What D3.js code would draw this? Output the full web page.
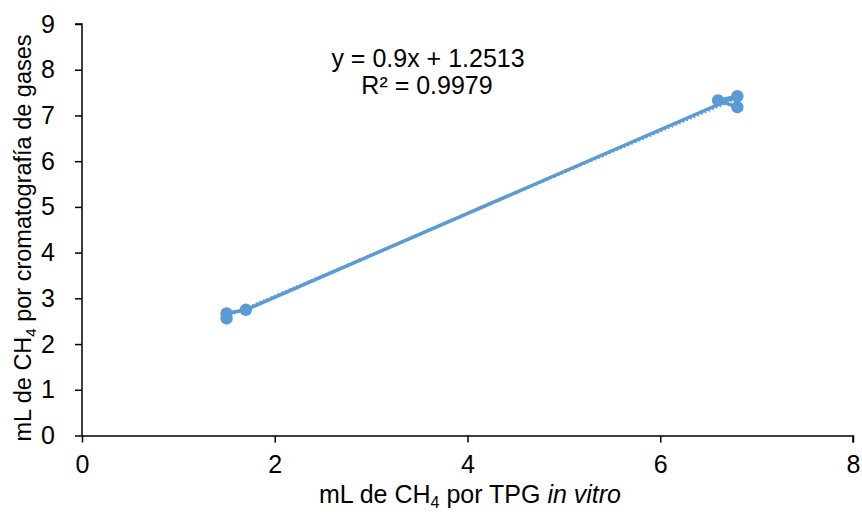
<!DOCTYPE html>
<html>
<head>
<meta charset="utf-8">
<script src="https://cdn.jsdelivr.net/npm/d3@7"></script>
<style>
  body { margin: 0; background: #fff; }
  svg { font-family: "Liberation Sans", Arial, sans-serif; }
</style>
</head>
<body>
<script>
const xValues = [1.5, 1.5, 1.7, 6.8, 6.6, 6.8];
const yValues = [2.56, 2.67, 2.75, 7.42, 7.33, 7.18];
const xTicks = [0, 2, 4, 6, 8];
const yTicks = [0, 1, 2, 3, 4, 5, 6, 7, 8, 9];
const slope = 0.9;
const intercept = 1.2513;
const eqLabel = "y = 0.9x + 1.2513";
const r2Label = "R² = 0.9979";

const w = 862;
const h = 515;
const padLeft = 82, padRight = 853, padTop = 24, padBottom = 435.5;
const blue = "#5b9bd5";

const points = xValues.map((x, i) => ({ x: x, y: yValues[i] }));

const svg = d3.select("body")
              .append("svg")
              .attr("width", w)
              .attr("height", h);

const xScale = d3.scaleLinear().domain([0, 8]).range([padLeft, padRight]);
const yScale = d3.scaleLinear().domain([0, 9]).range([padBottom, padTop]);

// axes
const xAxis = d3.axisBottom(xScale).tickValues(xTicks).tickSize(7).tickPadding(13);
const yAxis = d3.axisLeft(yScale).tickValues(yTicks).tickSize(7).tickPadding(20);

const gx = svg.append("g")
   .attr("transform", `translate(0, ${padBottom})`)
   .call(xAxis);
const gy = svg.append("g")
   .attr("transform", `translate(${padLeft}, 0)`)
   .call(yAxis);

[gx, gy].forEach(g => {
  g.select(".domain").attr("stroke", "#000").attr("stroke-width", 1.5);
  g.selectAll(".tick line").attr("stroke", "#000").attr("stroke-width", 1.5);
  g.selectAll(".tick text")
   .attr("font-family", "Liberation Sans, Arial, sans-serif")
   .attr("font-size", "25px")
   .attr("fill", "#000");
});
gx.select(".domain").attr("d", `M${padLeft},0.5H${padRight}V7`);
gy.select(".domain").attr("d", `M-7,${padTop}H0V${padBottom}`);

// trendline (dotted)
const xExt = d3.extent(xValues);
svg.append("line")
   .attr("x1", xScale(xExt[0]))
   .attr("y1", yScale(slope * xExt[0] + intercept))
   .attr("x2", xScale(xExt[1]))
   .attr("y2", yScale(slope * xExt[1] + intercept))
   .attr("stroke", blue)
   .attr("stroke-width", 2.5)
   .attr("stroke-dasharray", "1.5 2.5");

// series line
const line = d3.line().x(d => xScale(d.x)).y(d => yScale(d.y));
svg.append("path")
   .datum(points)
   .attr("d", line)
   .attr("fill", "none")
   .attr("stroke", blue)
   .attr("stroke-width", 3.5);

svg.selectAll("circle.pt")
   .data(points)
   .enter()
   .append("circle")
   .attr("class", "pt")
   .attr("cx", d => xScale(d.x))
   .attr("cy", d => yScale(d.y))
   .attr("r", 6.2)
   .attr("fill", blue);

// equation
svg.append("text")
   .text(eqLabel)
   .attr("x", 428)
   .attr("y", 67)
   .attr("text-anchor", "middle")
   .attr("font-size", "25px");
svg.append("text")
   .text(r2Label)
   .attr("x", 427)
   .attr("y", 93.5)
   .attr("text-anchor", "middle")
   .attr("font-size", "25px");

// x title
const xt = svg.append("text")
   .attr("x", 470)
   .attr("y", 503)
   .attr("text-anchor", "middle")
   .attr("font-size", "25px");
xt.append("tspan").text("mL de CH");
xt.append("tspan").text("4").attr("font-size", "16px").attr("dy", 5);
xt.append("tspan").text(" por TPG ").attr("dy", -5);
xt.append("tspan").text("in vitro").attr("font-style", "italic");

// y title
const yt = svg.append("text")
   .attr("transform", `translate(31, 238) rotate(-90)`)
   .attr("text-anchor", "middle")
   .attr("font-size", "23.5px");
yt.append("tspan").text("mL de CH");
yt.append("tspan").text("4").attr("font-size", "15px").attr("dy", 5);
yt.append("tspan").text(" por cromatografía de gases").attr("dy", -5);
</script>
</body>
</html>
